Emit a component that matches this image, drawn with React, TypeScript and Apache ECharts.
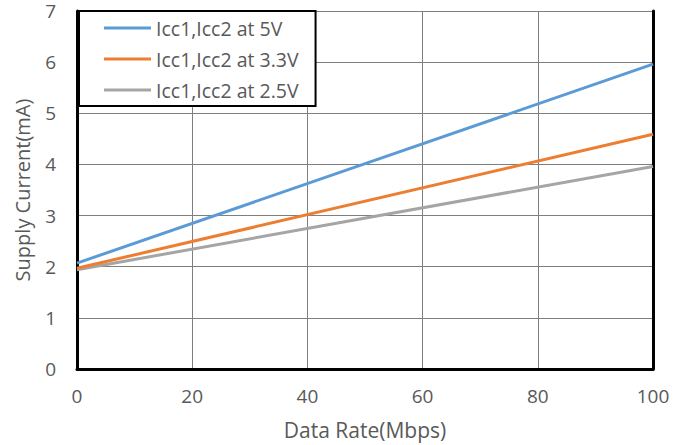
import React, { useEffect, useRef } from "react";
import * as echarts from "echarts";

// Supply current vs. data rate at three supply voltages
const seriesNames = ["Icc1,Icc2 at 5V", "Icc1,Icc2 at 3.3V", "Icc1,Icc2 at 2.5V"];
const dataRate = [0, 100];
const icc5V = [2.07, 5.96];
const icc3V3 = [1.97, 4.59];
const icc2V5 = [1.94, 3.96];
const colors = ["#5B9BD5", "#ED7D31", "#A5A5A5"];

const FONT = "Open Sans";
const LABEL_COLOR = "#595959";

export default function App() {
  const ref = useRef<HTMLDivElement>(null);

  useEffect(() => {
    if (!ref.current) return;
    const chart = echarts.init(ref.current, null, { renderer: "svg" });
    const values = [icc5V, icc3V3, icc2V5];
    chart.setOption({
      animation: false,
      backgroundColor: "#ffffff",
      grid: { left: 77, top: 11, right: 35, bottom: 75, containLabel: false },
      legend: {
        orient: "vertical",
        left: 79,
        top: 11,
        data: seriesNames,
        icon: "rect",
        itemWidth: 47,
        itemHeight: 3,
        itemGap: 11,
        padding: [7, 17, 6, 25],
        backgroundColor: "#ffffff",
        borderColor: "#000000",
        borderWidth: 2,
        textStyle: { fontFamily: FONT, fontSize: 19.5, color: LABEL_COLOR, lineHeight: 19 },
      },
      xAxis: {
        type: "value",
        min: 0,
        max: 100,
        interval: 20,
        name: "Data Rate(Mbps)",
        nameLocation: "middle",
        nameGap: 50,
        nameTextStyle: { fontFamily: FONT, fontSize: 21, color: LABEL_COLOR },
        axisLine: { show: true, lineStyle: { color: "#000000", width: 3 } },
        axisTick: { show: false },
        axisLabel: { fontFamily: FONT, fontSize: 19, color: LABEL_COLOR, margin: 17 },
        splitLine: { show: true, lineStyle: { color: "#7f7f7f", width: 1 } },
      },
      yAxis: [
        {
          type: "value",
          min: 0,
          max: 7,
          interval: 1,
          name: "Supply Current(mA)",
          nameLocation: "middle",
          nameGap: 45,
          nameTextStyle: { fontFamily: FONT, fontSize: 20, color: LABEL_COLOR },
          axisLine: { show: true, lineStyle: { color: "#000000", width: 3 } },
          axisTick: { show: false },
          axisLabel: { fontFamily: FONT, fontSize: 19, lineHeight: 18, color: LABEL_COLOR, margin: 21 },
          splitLine: { show: true, lineStyle: { color: "#7f7f7f", width: 1 } },
        },
        {
          type: "value",
          min: 0,
          max: 7,
          interval: 1,
          position: "right",
          axisLine: { show: true, lineStyle: { color: "#000000", width: 3 } },
          axisTick: { show: false },
          axisLabel: { show: false },
          splitLine: { show: false },
        },
      ],
      series: seriesNames.map((name, i) => ({
        name,
        type: "line",
        yAxisIndex: 0,
        data: dataRate.map((x, j) => [x, values[i][j]]),
        showSymbol: false,
        lineStyle: { color: colors[i], width: 3 },
        itemStyle: { color: colors[i] },
        z: 3 - i,
      })),
    });
    return () => chart.dispose();
  }, []);

  return (
    <div
      ref={ref}
      style={{ position: "fixed", left: 0, top: 0, width: 688, height: 445 }}
    />
  );
}
